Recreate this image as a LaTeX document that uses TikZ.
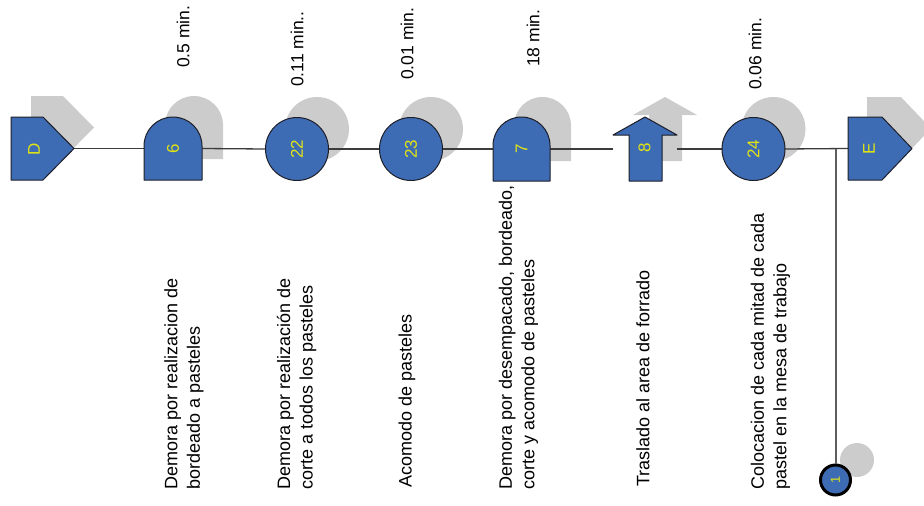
\documentclass[tikz,border=0pt]{standalone}
\usepackage{fontspec}
\setmainfont{Liberation Sans}
\usepackage{graphicx}
\definecolor{fblue}{RGB}{62,108,180}
\definecolor{sgray}{RGB}{204,204,204}
\definecolor{lyel}{RGB}{225,228,20}
\definecolor{edgec}{RGB}{30,30,40}
\definecolor{linec}{RGB}{60,60,60}
\definecolor{vlinec}{RGB}{95,95,95}
\newcommand\nlab[1]{\rotatebox{90}{\color{lyel}\fontsize{17}{17}\selectfont #1}}
\begin{document}
\begin{tikzpicture}[x=1pt,y=1pt,
  shp/.style={fill=fblue,draw=edgec,line width=1pt,line join=round},
  shd/.style={fill=sgray,draw=none},
  geo/.style={draw=none,inner sep=0pt,outer sep=0pt},
  conn/.style={draw=linec,line width=1.3pt},
  vconn/.style={draw=vlinec,line width=2pt},
  tlab/.style={rotate=90,anchor=west,inner sep=0pt,font=\fontsize{17.5}{21}\selectfont},
  blab/.style={rotate=90,anchor=west,align=left,inner sep=0pt,font=\fontsize{18}{22.5}\selectfont}]
\useasboundingbox (0,0) rectangle (924,-506);
\clip (0,0) rectangle (924,-506);

% ---------- shadows ----------
\begin{scope}[shift={(20,21)}]
  \fill[shd] (11,-117) -- (43,-117) -- (74,-148.5) -- (43,-180) -- (11,-180) -- cycle;
\end{scope}
\begin{scope}[shift={(21,21)}]
  \fill[shd] (144,-180) -- (144,-146) arc (180:0:29) -- (202,-180) -- cycle;
\end{scope}
\fill[shd] (317,-129) circle (32);
\fill[shd] (431,-129) circle (32);
\begin{scope}[shift={(21,20)}]
  \fill[shd] (493,-181) -- (493,-145.5) arc (180:0:28.5) -- (550,-181) -- cycle;
\end{scope}
\begin{scope}[shift={(20,20)}]
  \fill[shd] (629,-181) -- (629,-135) -- (613,-135) -- (645,-117) -- (677,-135) -- (662,-135) -- (662,-181) -- cycle;
\end{scope}
\fill[shd] (773.5,-129) circle (32);
\begin{scope}[shift={(19,20)}]
  \fill[shd] (848,-117) -- (882,-117) -- (912,-148.5) -- (882,-180) -- (848,-180) -- cycle;
\end{scope}
\fill[shd] (857,-460) circle (17);

% ---------- geometry nodes ----------
\node[geo,minimum width=63,minimum height=63] (D) at (42.5,-148.5) {};
\node[geo,minimum width=58,minimum height=63] (n6) at (173,-148.5) {};
\node[geo,circle,minimum size=63] (n22) at (297,-149) {};
\node[geo,circle,minimum size=63] (n23) at (411,-149) {};
\node[geo,minimum width=57,minimum height=64] (n7) at (521.5,-149) {};
\node[geo,minimum width=64,minimum height=64] (n8) at (645,-149) {};
\node[geo,circle,minimum size=63] (n24) at (753.5,-149) {};
\node[geo,minimum width=64,minimum height=63] (E) at (880,-148.5) {};
\coordinate (j) at (835.5,-149);

% ---------- connectors ----------
\draw[conn] (D.east) -- (n6.west);
\draw[conn] (n6.east) -- (n22.west);
\draw[conn] (n22.east) -- (n23.west);
\draw[conn] (n23.east) -- (n7.west);
\draw[conn] (n7.east) -- (n8.west);
\draw[conn] (n8.east) -- (n24.west);
\draw[conn] (n24.east) -- (E.west);

% ---------- shapes ----------
\draw[shp] (11,-117) -- (43,-117) -- (74,-148.5) -- (43,-180) -- (11,-180) -- cycle;
\draw[shp] (144,-180) -- (144,-146) arc (180:0:29) -- (202,-180) -- cycle;
\draw[shp] (n22.center) circle (31.5);
\draw[shp] (n23.center) circle (31.5);
\draw[shp] (493,-181) -- (493,-145.5) arc (180:0:28.5) -- (550,-181) -- cycle;
\draw[shp] (629,-181) -- (629,-135) -- (613,-135) -- (645,-117) -- (677,-135) -- (662,-135) -- (662,-181) -- cycle;
\draw[shp] (n24.center) circle (31.5);
\draw[shp] (848,-117) -- (882,-117) -- (912,-148.5) -- (882,-180) -- (848,-180) -- cycle;

% ---------- node 1 and branch ----------
\node[circle,fill=fblue,draw=black,line width=3pt,minimum size=30,inner sep=0pt] (n1) at (835.5,-480)
  {\rotatebox{90}{\color{lyel}\fontsize{13}{13}\selectfont 1}};
\draw[vconn] (j) -- (n1.north);

% ---------- labels inside shapes ----------
\node[geo] (Dl) at (34,-149) {\nlab{D}};
\node[geo] (n6l) at (n6.center) {\nlab{6}};
\node[geo] (n22l) at (n22.center) {\nlab{22}};
\node[geo] (n23l) at (n23.center) {\nlab{23}};
\node[geo] (n7l) at (n7.center) {\nlab{7}};
\node[geo] (n8l) at (644.5,-148) {\nlab{8}};
\node[geo] (n24l) at (n24.center) {\nlab{24}};
\node[geo] (El) at (869,-149) {\nlab{E}};

% ---------- time labels ----------
\node[tlab] (t6) at (183,-68) {0.5 min.};
\node[tlab] (t22) at (297,-87) {0.11 min..};
\node[tlab] (t23) at (407,-80) {0.01 min.};
\node[tlab] (t7) at (533,-67) {18 min.};
\node[tlab] (t24) at (755,-90) {0.06 min.};

% ---------- descriptions ----------
\node[blab] (b6) at (184,-490) {Demora por realizacion de\\bordeado a pasteles};
\node[blab] (b22) at (296.5,-490) {Demora por realización de\\corte a todos los pasteles};
\node[blab] (b23) at (407,-488) {Acomodo de pasteles};
\node[blab] (b7) at (518.5,-490) {Demora por desempacado, bordeado,\\corte y acomodo de pasteles};
\node[blab] (b8) at (643,-487) {Traslado al area de forrado};
\node[blab] (b24) at (770.5,-490) {Colocacion de cada mitad de cada\\pastel en la mesa de trabajo};
\end{tikzpicture}
\end{document}
